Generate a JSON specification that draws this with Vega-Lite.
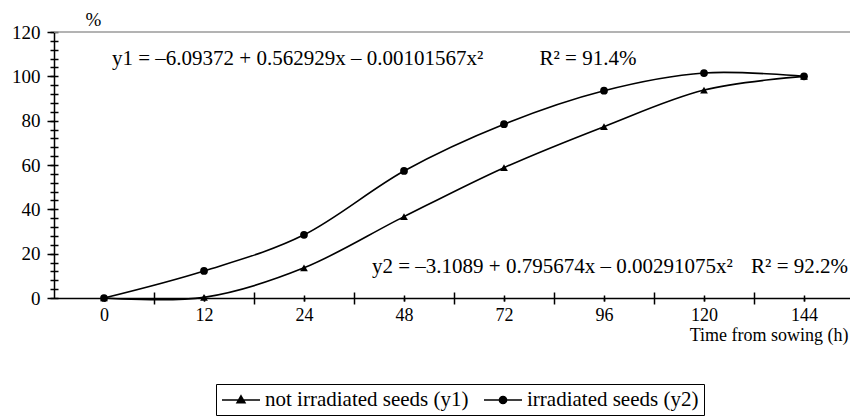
{
  "$schema": "https://vega.github.io/schema/vega-lite/v6.json",
  "width": 800,
  "height": 266,
  "autosize": {"type": "none"},
  "padding": {"left": 54, "top": 32, "right": 0, "bottom": 121},
  "data": {"values": [
    {"time": 0, "value": 0, "series": "not irradiated seeds (y1)"},
    {"time": 12, "value": 0.3, "series": "not irradiated seeds (y1)"},
    {"time": 24, "value": 13.6, "series": "not irradiated seeds (y1)"},
    {"time": 48, "value": 36.7, "series": "not irradiated seeds (y1)"},
    {"time": 72, "value": 58.8, "series": "not irradiated seeds (y1)"},
    {"time": 96, "value": 77.3, "series": "not irradiated seeds (y1)"},
    {"time": 120, "value": 93.8, "series": "not irradiated seeds (y1)"},
    {"time": 144, "value": 100, "series": "not irradiated seeds (y1)"},
    {"time": 0, "value": 0, "series": "irradiated seeds (y2)"},
    {"time": 12, "value": 12.2, "series": "irradiated seeds (y2)"},
    {"time": 24, "value": 28.5, "series": "irradiated seeds (y2)"},
    {"time": 48, "value": 57.3, "series": "irradiated seeds (y2)"},
    {"time": 72, "value": 78.4, "series": "irradiated seeds (y2)"},
    {"time": 96, "value": 93.5, "series": "irradiated seeds (y2)"},
    {"time": 120, "value": 101.5, "series": "irradiated seeds (y2)"},
    {"time": 144, "value": 100, "series": "irradiated seeds (y2)"}
  ]},
  "resolve": {"axis": {"x": "independent", "y": "independent"}, "scale": {"shape": "independent"}, "legend": {"shape": "independent"}},
  "layer": [
    {
      "data": {"values": [{"label": "top"}]},
      "mark": {"type": "rule", "color": "#9a9a9a", "strokeWidth": 1.5},
      "encoding": {
        "y": {"datum": 120, "type": "quantitative", "scale": {"domain": [0, 120], "nice": false}, "axis": null}
      }
    },
    {
      "mark": {"type": "line", "color": "black", "strokeWidth": 1.6, "interpolate": "cardinal"},
      "encoding": {
        "x": {"field": "time", "type": "ordinal",
          "axis": {"orient": "bottom", "labelAngle": 0, "tickSize": 3, "tickWidth": 1.5, "domainWidth": 1.5, "labelFontSize": 18, "labelPadding": 5,
            "title": "Time from sowing (h)", "titleFontSize": 18, "titleFontWeight": "normal", "titleX": 794, "titleY": 37, "titleAlign": "right", "titleBaseline": "middle", "titleAnchor": null}},
        "y": {"field": "value", "type": "quantitative", "scale": {"domain": [0, 120], "nice": false},
          "axis": {"orient": "left", "values": [0,20,40,60,80,100,120], "tickSize": 7, "tickWidth": 1.5, "domainWidth": 1.5, "labelFontSize": 19, "labelPadding": 7,
            "title": "%", "titleFontSize": 19, "titleFontWeight": "normal", "titleAngle": 0, "titleX": 39, "titleY": -13, "titleAlign": "center", "titleBaseline": "middle"}},
        "detail": {"field": "series"}
      }
    },
    {
      "mark": {"type": "point", "filled": true, "color": "black", "size": 60, "opacity": 1},
      "encoding": {
        "x": {"field": "time", "type": "ordinal",
          "axis": {"orient": "bottom", "offset": -3, "tickSize": 6, "tickWidth": 1.5, "labels": false, "domain": false, "title": null}},
        "y": {"field": "value", "type": "quantitative",
          "axis": {"orient": "left", "offset": -4, "values": [0,4,8,12,16,20,24,28,32,36,40,44,48,52,56,60,64,68,72,76,80,84,88,92,96,100,104,108,112,116,120], "tickSize": 8, "tickWidth": 1.5, "labels": false, "domain": false, "title": null}},
        "shape": {"field": "series", "type": "nominal",
          "scale": {"domain": ["not irradiated seeds (y1)", "irradiated seeds (y2)"], "range": ["triangle-up", "circle"]},
          "legend": null}
      }
    },
    {
      "mark": {"type": "point", "filled": false, "color": "black", "strokeWidth": 1.5, "size": 0, "opacity": 1},
      "encoding": {
        "x": {"field": "time", "type": "ordinal", "axis": null},
        "y": {"field": "value", "type": "quantitative", "axis": null},
        "shape": {"field": "series", "type": "nominal",
          "scale": {"domain": ["not irradiated seeds (y1)", "irradiated seeds (y2)"],
            "range": [
              "M-1.9,0H1.9M0,-0.42L0.4,0.28L-0.4,0.28ZM-0.32,0.14H0.32M-0.16,-0.14H0.16M-0.08,-0.28H0.08",
              "M-1.9,0H1.9M0.36,0A0.36,0.36 0 1,1 -0.36,0A0.36,0.36 0 1,1 0.36,0ZM-0.27,-0.24H0.27M-0.34,-0.12H0.34M-0.34,0.12H0.34M-0.27,0.24H0.27"
            ]},
          "legend": {"orient": "none", "legendX": 162, "legendY": 352, "direction": "horizontal", "title": null,
            "labelFont": "Liberation Serif", "labelFontSize": 21, "labelColor": "black", "labelOffset": 13, "labelLimit": 0, "columnPadding": 12, "padding": 5,
            "strokeColor": "black", "symbolSize": 400, "symbolOffset": 9, "symbolStrokeWidth": 1.5, "symbolStrokeColor": "black", "symbolOpacity": 1}
        }
      }
    },
    {
      "data": {"values": [{"label": "y1 = –6.09372 + 0.562929x – 0.00101567x²"}]},
      "mark": {"type": "text", "align": "left", "baseline": "alphabetic", "dx": 8, "fontSize": 21, "color": "black", "font": "Liberation Serif"},
      "encoding": {
        "x": {"datum": 0, "type": "ordinal", "axis": {"orient": "bottom", "offset": -6, "tickOffset": 50, "tickSize": 12, "tickWidth": 1.5, "labels": false, "domain": false, "title": null}},
        "y": {"datum": 105.1, "type": "quantitative", "axis": null},
        "text": {"field": "label"}
      }
    },
    {
      "data": {"values": [{"label": "R² = 91.4%"}]},
      "mark": {"type": "text", "align": "center", "baseline": "alphabetic", "dx": -16, "fontSize": 21, "color": "black", "font": "Liberation Serif"},
      "encoding": {
        "x": {"datum": 96, "type": "ordinal", "axis": null},
        "y": {"datum": 105.1, "type": "quantitative", "axis": null},
        "text": {"field": "label"}
      }
    },
    {
      "data": {"values": [{"label": "y2 = –3.1089 + 0.795674x – 0.00291075x²"}]},
      "mark": {"type": "text", "align": "left", "baseline": "alphabetic", "dx": -32, "fontSize": 21, "color": "black", "font": "Liberation Serif"},
      "encoding": {
        "x": {"datum": 48, "type": "ordinal", "axis": null},
        "y": {"datum": 11.3, "type": "quantitative", "axis": null},
        "text": {"field": "label"}
      }
    },
    {
      "data": {"values": [{"label": "R² = 92.2%"}]},
      "mark": {"type": "text", "align": "right", "baseline": "alphabetic", "dx": 44, "fontSize": 21, "color": "black", "font": "Liberation Serif"},
      "encoding": {
        "x": {"datum": 144, "type": "ordinal", "axis": null},
        "y": {"datum": 11.3, "type": "quantitative", "axis": null},
        "text": {"field": "label"}
      }
    }
  ],
  "config": {
    "view": {"stroke": null},
    "font": "Liberation Serif",
    "axis": {"labelFont": "Liberation Serif", "titleFont": "Liberation Serif", "labelColor": "black", "titleColor": "black", "domainColor": "black", "tickColor": "black", "grid": false},
    "legend": {"labelFont": "Liberation Serif"},
    "text": {"font": "Liberation Serif"}
  }
}
